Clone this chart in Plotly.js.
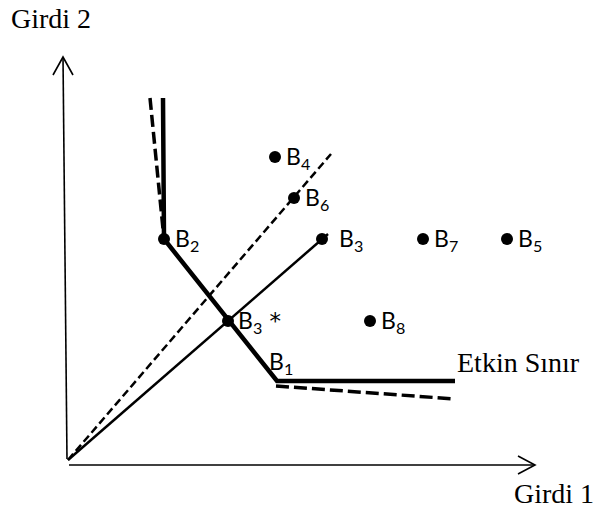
<!DOCTYPE html>
<html>
<head>
<meta charset="utf-8">
<script src="https://cdn.plot.ly/plotly-3.0.1.min.js"></script>
<style>
  html, body { margin: 0; padding: 0; background: #fff; }
  #chart { width: 594px; height: 509px; }
</style>
</head>
<body>
<div id="chart"></div>
<script>
// Decision-making units (Girdi 1, Girdi 2)
const units  = ['B1', 'B2', 'B3', 'B4', 'B5', 'B6', 'B7', 'B8'];
const girdi1 = [20.9, 9.6, 25.4, 20.7, 43.9, 22.6, 35.5, 30.2];
const girdi2 = [7.9, 22.1, 22.1, 30.3, 22.1, 26.2, 22.1, 13.9];

// Units lying on the efficient frontier (drawn as corners, not dots)
const frontierUnits = ['B1'];

// Projection of B3 onto the frontier
const projName = 'B3*';
const projX = 16.0;
const projY = 13.9;

// Efficient frontier (solid) and alternative frontier (dashed)
const frontierX = [9.5, 9.6, 20.9, 38.7];
const frontierY = [36.2, 22.1, 7.9, 7.9];
const altUpperX = [8.2, 9.6];
const altUpperY = [36.2, 22.1];
const altLowerX = [20.8, 38.7];
const altLowerY = [7.4, 6.1];

// Rays from the origin
const rayB3X = [0, 26.0];
const rayB3Y = [0, 22.6];
const rayDashX = [0, 26.3];
const rayDashY = [0, 30.6];

const labelFont = { family: 'Lato, "Noto Sans", sans-serif', size: 23, color: '#000' };
const serifFont = { family: '"Liberation Serif", "Times New Roman", serif', size: 28, color: '#000' };

const traces = [
  { x: rayDashX, y: rayDashY, mode: 'lines', line: { color: '#000', width: 2.5, dash: '8px,4px' }, hoverinfo: 'skip' },
  { x: rayB3X, y: rayB3Y, mode: 'lines', line: { color: '#000', width: 2.5 }, hoverinfo: 'skip' },
  { x: altUpperX, y: altUpperY, mode: 'lines', line: { color: '#000', width: 3.5, dash: '12px,5px' }, hoverinfo: 'skip' },
  { x: altLowerX, y: altLowerY, mode: 'lines', line: { color: '#000', width: 3.5, dash: '13px,5px' }, hoverinfo: 'skip' },
  { x: frontierX, y: frontierY, mode: 'lines', line: { color: '#000', width: 4.5 }, hoverinfo: 'skip' }
];

// Dots for every unit not on a frontier corner, plus the projection
const dotX = [], dotY = [];
units.forEach((u, i) => {
  if (!frontierUnits.includes(u)) { dotX.push(girdi1[i]); dotY.push(girdi2[i]); }
});
dotX.push(projX); dotY.push(projY);
traces.push({ x: dotX, y: dotY, mode: 'markers', marker: { color: '#000', size: 12 }, hoverinfo: 'skip' });

// Point labels
const labelShift = { B1: [-10, 19], B3: [15, 0] };
const annotations = units.map((u, i) => {
  const s = labelShift[u] || [9, 0];
  return {
    x: girdi1[i], y: girdi2[i], xref: 'x', yref: 'y',
    text: 'B<sub>' + u.slice(1) + '</sub>',
    showarrow: false, xanchor: 'left', yanchor: 'middle',
    xshift: s[0], yshift: s[1], font: labelFont
  };
});
annotations.push({
  x: projX, y: projY, xref: 'x', yref: 'y',
  text: 'B<sub>3</sub><span style="font-family:\'DejaVu Sans\'"> *</span>', showarrow: false,
  xanchor: 'left', yanchor: 'middle', xshift: 8, font: labelFont
});

// Axis titles and frontier caption
annotations.push(
  { x: -5.9, y: 44.2, xref: 'x', yref: 'y', text: 'Girdi 2', showarrow: false, xanchor: 'left', yanchor: 'middle', font: serifFont },
  { x: 44.4, y: -3.3, xref: 'x', yref: 'y', text: 'Girdi 1', showarrow: false, xanchor: 'left', yanchor: 'middle', font: serifFont },
  { x: 38.7, y: 9.8, xref: 'x', yref: 'y', text: 'Etkin Sınır', showarrow: false, xanchor: 'left', yanchor: 'middle', font: serifFont }
);

// Hand-drawn axes with open arrowheads
const axisLine = { color: '#000', width: 1.6 };
const shapes = [
  { type: 'line', xref: 'x', yref: 'y', x0: -0.1, y0: 0.1, x1: -0.5, y1: 40.3, line: axisLine },
  { type: 'path', xref: 'x', yref: 'y', path: 'M -1.5 38.5 L -0.5 40.3 L 0.5 38.5', line: axisLine },
  { type: 'line', xref: 'x', yref: 'y', x0: 0.1, y0: -0.5, x1: 46.7, y1: -0.5, line: axisLine },
  { type: 'path', xref: 'x', yref: 'y', path: 'M 45.0 0.4 L 46.7 -0.5 L 45.0 -1.4', line: axisLine }
];

const layout = {
  width: 594, height: 509,
  margin: { l: 0, r: 0, t: 0, b: 0 },
  paper_bgcolor: '#fff', plot_bgcolor: '#fff',
  showlegend: false,
  xaxis: { range: [-6.8, 52.6], visible: false, fixedrange: true },
  yaxis: { range: [-4.9, 46], visible: false, fixedrange: true },
  annotations: annotations,
  shapes: shapes
};

Plotly.newPlot('chart', traces, layout, { staticPlot: true, displayModeBar: false });
</script>
</body>
</html>
